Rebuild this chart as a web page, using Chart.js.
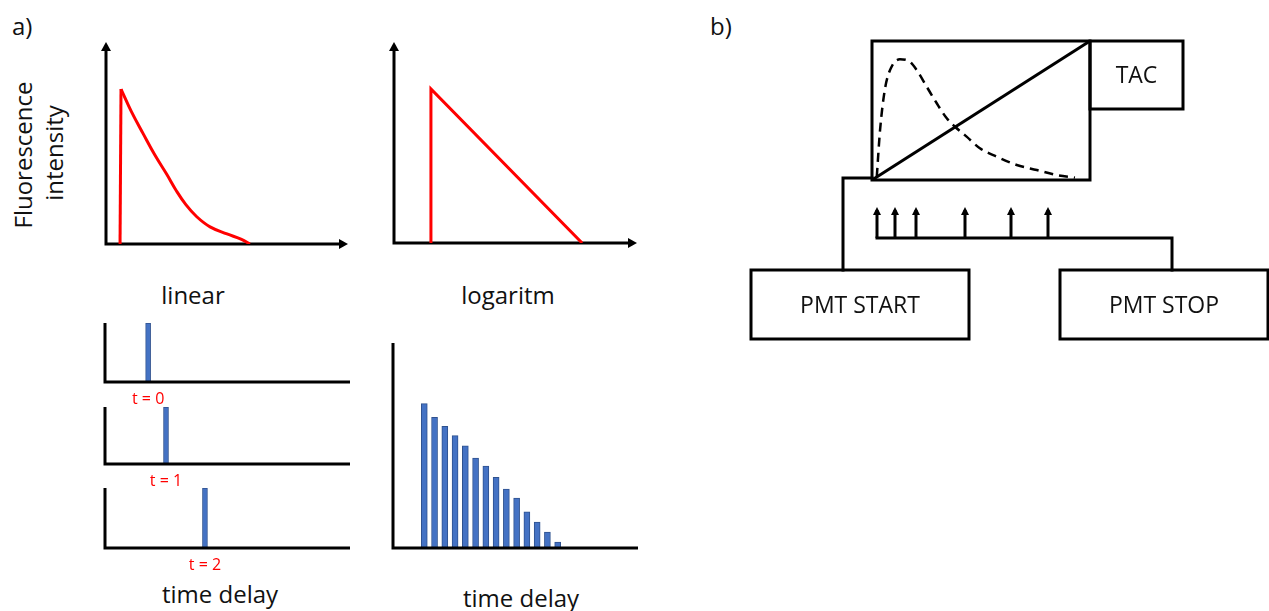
<!DOCTYPE html>
<html lang="en">
<head>
<meta charset="UTF-8">
<title>Fluorescence decay and TCSPC</title>
<script src="https://cdn.jsdelivr.net/npm/chart.js"></script>
<style>
  body { margin: 0; background: #fff; font-family: 'Open Sans', sans-serif; }
  #page { position: relative; width: 1269px; height: 611px; overflow: hidden; }
  canvas { position: absolute; }
  .lbl { position: absolute; font-size: 24px; line-height: 24px; color: #111; white-space: nowrap; }
  .mid { transform: translateX(-50%); }
  .rot { transform: translate(-50%, -50%) rotate(-90deg); }
</style>
</head>
<body>
<div id="page">
  <div class="lbl" style="left:12px; top:14px;">a)</div>
  <div class="lbl" style="left:710px; top:14px;">b)</div>
  <div class="lbl rot" style="left:23px; top:155px;">Fluorescence</div>
  <div class="lbl rot" style="left:54px; top:153px;">intensity</div>
  <div class="lbl mid" style="left:193px; top:283px;">linear</div>
  <div class="lbl mid" style="left:508px; top:283px;">logaritm</div>
  <div class="lbl mid" style="left:220px; top:582px;">time delay</div>
  <div class="lbl mid" style="left:521px; top:586px;">time delay</div>

  <canvas id="linear" width="262" height="222" style="left:96px; top:32px;"></canvas>
  <canvas id="log" width="263" height="221" style="left:384px; top:32px;"></canvas>
  <canvas id="pulse0" width="265" height="99" style="left:95px; top:313px;"></canvas>
  <canvas id="pulse1" width="265" height="97" style="left:95px; top:397px;"></canvas>
  <canvas id="pulse2" width="265" height="100" style="left:95px; top:478px;"></canvas>
  <canvas id="hist" width="265" height="225" style="left:383px; top:333px;"></canvas>
  <canvas id="scheme" width="529" height="320" style="left:740px; top:30px;"></canvas>
  <canvas id="tac" width="238" height="159" style="left:862px; top:31px;"></canvas>
</div>

<script>
// linear decay (time, intensity), arbitrary units 0-100
const riseTime = [5.8, 6.2];
const riseIntensity = [0, 76.7];
const decayTime = [6.2, 10.5, 15.4, 20.2, 25.1, 29.0, 33.0, 37.5, 43.0, 50.0, 56.0, 59.5];
const decayIntensity = [76.7, 65.5, 54.5, 44.0, 34.5, 26.5, 19.5, 13.5, 8.5, 5.0, 2.3, 0];

// log plot: rise then straight line
const logTime = [15.2, 15.2, 77.4];
const logIntensity = [0, 76.6, 0];

// single photon pulses at increasing delay
const pulseDelays = [17.6, 24.9, 40.8];
const pulseHeights = [100, 100, 100];
const pulseLabels = ['t = 0', 't = 1', 't = 2'];

// histogram of photon counts per channel
const channels = [1, 2, 3, 4, 5, 6, 7, 8, 9, 10, 11, 12, 13, 14];
const counts = [70.4, 63.8, 59.4, 54.8, 49.9, 43.9, 40.0, 34.5, 28.8, 24.4, 17.7, 12.7, 7.8, 2.9];

// TAC panel: ramp and photon distribution (0-100 units)
const rampTime = [0, 100];
const rampValue = [0, 100];
const pdfTime = [2.2, 3.7, 6.0, 9.0, 12.8, 16.7, 20.5, 25.1, 29.7, 34.3, 38.1, 43.4, 49.5, 57.2, 66.4, 75.6, 84.7, 93.1];
const pdfValue = [2.4, 36.0, 66.0, 81.5, 86.8, 85.8, 79.1, 67.1, 55.2, 44.4, 38.3, 31.2, 22.8, 16.8, 10.8, 7.2, 3.6, 1.7];

// schematic (diagram units, y downwards)
const boxes = [
  { label: '', x0: 132, y0: 11, x1: 350, y1: 150 },
  { label: 'TAC', x0: 350, y0: 11, x1: 443, y1: 79 },
  { label: 'PMT START', x0: 11, y0: 240, x1: 229, y1: 309 },
  { label: 'PMT STOP', x0: 320, y0: 240, x1: 528, y1: 309 }
];
const wires = [
  [[103, 240], [103, 148], [132, 148]],
  [[432, 240], [432, 208], [137, 208]]
];
const photonArrows = [137, 155, 176, 225, 271, 308];
const arrowFrom = 208, arrowTo = 180;

const pts = (xs, ys) => xs.map((x, i) => ({ x: x, y: ys[i] }));

Chart.defaults.font.family = "'Open Sans', sans-serif";
Chart.defaults.animation = false;
Chart.defaults.responsive = false;
Chart.defaults.events = [];
Chart.defaults.plugins.legend.display = false;
Chart.defaults.plugins.tooltip.enabled = false;

function drawAxes(chart, opts) {
  const xs = chart.scales.x, ys = chart.scales.y, ctx = chart.ctx;
  const left = xs.getPixelForValue(xs.min), right = xs.getPixelForValue(xs.max);
  const bottom = ys.getPixelForValue(ys.min), top = ys.getPixelForValue(ys.max);
  const head = opts.arrows ? 9 : 0, half = 5;
  ctx.save();
  ctx.lineWidth = 3;
  ctx.strokeStyle = '#000';
  ctx.fillStyle = '#000';
  ctx.lineJoin = 'miter';
  ctx.beginPath();
  ctx.moveTo(left, top + head * 0.6);
  ctx.lineTo(left, bottom);
  ctx.lineTo(right - head * 0.6, bottom);
  ctx.stroke();
  if (opts.arrows) {
    ctx.beginPath();
    ctx.moveTo(left, top);
    ctx.lineTo(left - half, top + head);
    ctx.lineTo(left + half, top + head);
    ctx.closePath();
    ctx.fill();
    ctx.beginPath();
    ctx.moveTo(right, bottom);
    ctx.lineTo(right - head, bottom - half);
    ctx.lineTo(right - head, bottom + half);
    ctx.closePath();
    ctx.fill();
  }
  ctx.restore();
}

const axesPlugin = {
  id: 'axes',
  beforeDatasetsDraw(chart, args, opts) { if (!opts.onTop) drawAxes(chart, opts); },
  afterDatasetsDraw(chart, args, opts) { if (opts.onTop) drawAxes(chart, opts); }
};

// arrow heads on the last point of flagged datasets
const arrowPlugin = {
  id: 'arrowHeads',
  afterDatasetsDraw(chart) {
    const ctx = chart.ctx;
    chart.data.datasets.forEach((ds, i) => {
      if (!ds.arrowHead) return;
      const el = chart.getDatasetMeta(i).data;
      const a = el[el.length - 2], b = el[el.length - 1];
      const ang = Math.atan2(b.y - a.y, b.x - a.x);
      const tipX = b.x + Math.cos(ang) * 3, tipY = b.y + Math.sin(ang) * 3;
      const len = 8, half = 4;
      ctx.save();
      ctx.translate(tipX, tipY);
      ctx.rotate(ang);
      ctx.fillStyle = '#000';
      ctx.beginPath();
      ctx.moveTo(0, 0);
      ctx.lineTo(-len, -half);
      ctx.lineTo(-len, half);
      ctx.closePath();
      ctx.fill();
      ctx.restore();
    });
  }
};

const pulseLabelPlugin = {
  id: 'pulseLabel',
  afterDatasetsDraw(chart, args, opts) {
    const ctx = chart.ctx;
    const bar = chart.getDatasetMeta(0).data[0];
    ctx.save();
    ctx.font = "16px 'Open Sans', sans-serif";
    ctx.fillStyle = '#ff0000';
    ctx.textAlign = 'center';
    ctx.textBaseline = 'alphabetic';
    ctx.fillText(opts.text, bar.x, chart.chartArea.bottom + 22);
    ctx.restore();
  }
};

const boxLabelPlugin = {
  id: 'boxLabels',
  afterDatasetsDraw(chart, args, opts) {
    const xs = chart.scales.x, ys = chart.scales.y, ctx = chart.ctx;
    ctx.save();
    ctx.font = "23px 'Open Sans', sans-serif";
    ctx.fillStyle = '#111';
    ctx.textAlign = 'center';
    ctx.textBaseline = 'alphabetic';
    opts.boxes.forEach(b => {
      if (!b.label) return;
      const cx = xs.getPixelForValue((b.x0 + b.x1) / 2);
      const cy = ys.getPixelForValue((b.y0 + b.y1) / 2);
      ctx.fillText(b.label, cx, cy + 8);
    });
    ctx.restore();
  }
};

function baseOptions(xmin, xmax, ymin, ymax, pad, plugins, reverseY) {
  return {
    devicePixelRatio: 1,
    layout: { padding: pad },
    scales: {
      x: { type: 'linear', display: false, offset: false, min: xmin, max: xmax },
      y: { type: 'linear', display: false, min: ymin, max: ymax, reverse: !!reverseY }
    },
    elements: { point: { radius: 0 } },
    plugins: plugins
  };
}

const red = { borderColor: '#ff0000', borderWidth: 3, pointRadius: 0, fill: false };

new Chart(document.getElementById('linear'), {
  type: 'line',
  data: {
    datasets: [
      Object.assign({ data: pts(riseTime, riseIntensity), tension: 0 }, red),
      Object.assign({ data: pts(decayTime, decayIntensity), tension: 0.4 }, red)
    ]
  },
  options: baseOptions(0, 100, 0, 100, 10, { axes: { arrows: true } }),
  plugins: [axesPlugin]
});

new Chart(document.getElementById('log'), {
  type: 'line',
  data: {
    datasets: [Object.assign({ data: pts(logTime, logIntensity), tension: 0 }, red)]
  },
  options: baseOptions(0, 100, 0, 100, 10, { axes: { arrows: true } }),
  plugins: [axesPlugin]
});

const blueBar = { backgroundColor: '#4472c4', borderColor: '#2f528f', borderWidth: 1 };

pulseDelays.forEach((t, i) => {
  new Chart(document.getElementById('pulse' + i), {
    type: 'bar',
    data: {
      datasets: [Object.assign({ data: [{ x: t, y: pulseHeights[i] }], barThickness: 5 }, blueBar)]
    },
    options: baseOptions(0, 100, 0, 100, { left: 10, top: 10, right: 10, bottom: 30 },
      { axes: { arrows: false, onTop: true }, pulseLabel: { text: pulseLabels[i] } }),
    plugins: [axesPlugin, pulseLabelPlugin]
  });
});

new Chart(document.getElementById('hist'), {
  type: 'bar',
  data: {
    datasets: [Object.assign({ data: pts(channels, counts), barThickness: 6 }, blueBar)]
  },
  options: baseOptions(-2.05, 21.83, 0, 100, 10, { axes: { arrows: false, onTop: true } }),
  plugins: [axesPlugin]
});

const schemeSets = [];
boxes.forEach(b => {
  schemeSets.push({
    data: [{ x: b.x0, y: b.y0 }, { x: b.x1, y: b.y0 }, { x: b.x1, y: b.y1 }, { x: b.x0, y: b.y1 }, { x: b.x0, y: b.y0 }],
    borderColor: '#000', borderWidth: 3, borderCapStyle: 'square', borderJoinStyle: 'miter', tension: 0
  });
});
wires.forEach(w => {
  schemeSets.push({
    data: w.map(p => ({ x: p[0], y: p[1] })),
    borderColor: '#000', borderWidth: 3, borderCapStyle: 'square', borderJoinStyle: 'miter', tension: 0
  });
});
photonArrows.forEach(x => {
  schemeSets.push({
    data: [{ x: x, y: arrowFrom }, { x: x, y: arrowTo }],
    borderColor: '#000', borderWidth: 3, borderCapStyle: 'butt', tension: 0, arrowHead: true
  });
});

new Chart(document.getElementById('scheme'), {
  type: 'line',
  data: { datasets: schemeSets },
  options: baseOptions(0, 529, 0, 320, 0, { boxLabels: { boxes: boxes } }, true),
  plugins: [arrowPlugin, boxLabelPlugin]
});

new Chart(document.getElementById('tac'), {
  type: 'line',
  data: {
    datasets: [
      { data: pts(rampTime, rampValue), borderColor: '#000', borderWidth: 3, tension: 0 },
      { data: pts(pdfTime, pdfValue), borderColor: '#000', borderWidth: 2.5, borderDash: [9, 6], cubicInterpolationMode: 'monotone' }
    ]
  },
  options: baseOptions(0, 100, 0, 100, 10, {})
});
</script>
</body>
</html>
